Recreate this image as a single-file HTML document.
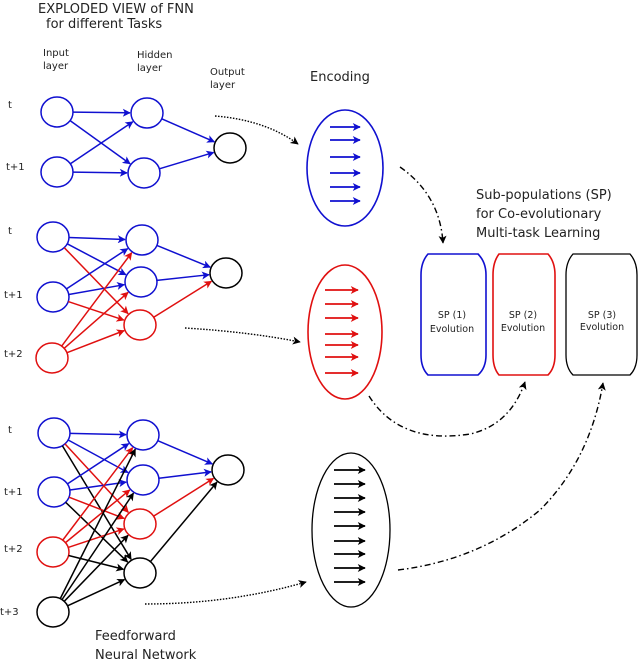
<!DOCTYPE html>
<html><head><meta charset="utf-8"><style>
html,body{margin:0;padding:0;background:#fff;width:640px;height:660px;overflow:hidden}
svg{display:block}
text{font-family:"DejaVu Sans","Liberation Sans",sans-serif;fill:#222}
</style></head><body>
<svg id="s" width="640" height="660" viewBox="0 0 640 660" xmlns="http://www.w3.org/2000/svg">
<defs>
<marker id="mb" viewBox="0 0 10 10" refX="9" refY="5" markerWidth="10" markerHeight="8" orient="auto" markerUnits="userSpaceOnUse"><path d="M0,0 L10,5 L0,10 L2.5,5z" fill="#1010d0"/></marker>
<marker id="mr" viewBox="0 0 10 10" refX="9" refY="5" markerWidth="10" markerHeight="8" orient="auto" markerUnits="userSpaceOnUse"><path d="M0,0 L10,5 L0,10 L2.5,5z" fill="#e01010"/></marker>
<marker id="mk" viewBox="0 0 10 10" refX="9" refY="5" markerWidth="10" markerHeight="8" orient="auto" markerUnits="userSpaceOnUse"><path d="M0,0 L10,5 L0,10 L2.5,5z" fill="#000"/></marker>
</defs>
<text x="38" y="13" font-size="13">EXPLODED VIEW of  FNN</text>
<text x="46" y="28" font-size="13">for different Tasks</text>
<text x="43" y="56" font-size="10">Input</text><text x="43" y="69" font-size="10">layer</text>
<text x="137" y="58" font-size="10">Hidden</text><text x="137" y="71" font-size="10">layer</text>
<text x="210" y="75" font-size="10">Output</text><text x="210" y="88" font-size="10">layer</text>
<text x="310" y="81" font-size="13">Encoding</text>
<text x="476" y="199" font-size="13">Sub-populations (SP)</text>
<text x="476" y="218" font-size="13">for Co-evolutionary</text>
<text x="476" y="237" font-size="13">Multi-task Learning</text>
<text x="95" y="640" font-size="13">Feedforward</text>
<text x="95" y="659" font-size="13">Neural Network</text>
<g font-size="10">
<text x="8" y="108">t</text><text x="6" y="170">t+1</text>
<text x="8" y="234">t</text><text x="4" y="298">t+1</text><text x="4" y="357">t+2</text>
<text x="8" y="433">t</text><text x="4" y="495">t+1</text><text x="4" y="552">t+2</text><text x="0" y="615">t+3</text>
</g>
<g id="net"></g>
<ellipse cx="345" cy="168" rx="38" ry="58" fill="none" stroke="#1010d0" stroke-width="1.6"/>
<ellipse cx="345" cy="332" rx="37" ry="67" fill="none" stroke="#e01010" stroke-width="1.6"/>
<ellipse cx="351" cy="530" rx="39" ry="77" fill="none" stroke="#000" stroke-width="1.3"/>
<g id="enc"></g>
<path d="M428,254 L478,254 Q486,262 486,275 L486,355 Q486,368 478,375 L428,375 Q421,368 421,355 L421,275 Q421,262 428,254Z" fill="none" stroke="#1010d0" stroke-width="1.6"/>
<path d="M499,254 L548,254 Q555,262 555,275 L555,355 Q555,368 548,375 L499,375 Q493,368 493,355 L493,275 Q493,262 499,254Z" fill="none" stroke="#e01010" stroke-width="1.6"/>
<path d="M573,254 L630,254 Q637,262 637,275 L637,355 Q637,368 630,375 L573,375 Q566,368 566,355 L566,275 Q566,262 573,254Z" fill="none" stroke="#000" stroke-width="1.3"/>
<g font-size="9.5" text-anchor="middle">
<text x="452" y="318">SP (1)</text><text x="452" y="332">Evolution</text>
<text x="523" y="318">SP (2)</text><text x="523" y="331">Evolution</text>
<text x="602" y="318">SP (3)</text><text x="602" y="330">Evolution</text>
</g>
<g fill="none" stroke="#000" stroke-width="1.4">
<path d="M215,116 Q265,120 298,144" stroke-dasharray="1.5,1.5" marker-end="url(#mk)"/>
<path d="M185,328 Q250,332 300,342" stroke-dasharray="1.5,1.5" marker-end="url(#mk)"/>
<path d="M145,604 Q230,604 306,582" stroke-dasharray="1.5,1.5" marker-end="url(#mk)"/>
<path d="M400,167 Q440,195 443,243" stroke-dasharray="6,3,1.5,3" marker-end="url(#mk)"/>
<path d="M369,396 Q400,445 470,434 Q510,425 525,382" stroke-dasharray="6,3,1.5,3" marker-end="url(#mk)"/>
<path d="M398,570 Q480,560 540,510 Q590,460 603,383" stroke-dasharray="6,3,1.5,3" marker-end="url(#mk)"/>
</g>
</svg>
<script>
var NS="http://www.w3.org/2000/svg",g=document.getElementById('net'),e=document.getElementById('enc');
var B="#1010d0",R="#e01010",K="#000",M={"#1010d0":"mb","#e01010":"mr","#000":"mk"},RK={"#1010d0":0,"#e01010":1,"#000":2};
function c(x,y,col){var o=document.createElementNS(NS,'ellipse');o.setAttribute('cx',x);o.setAttribute('cy',y);o.setAttribute('rx',16);o.setAttribute('ry',15);o.setAttribute('fill','none');o.setAttribute('stroke',col);o.setAttribute('stroke-width',1.5);g.appendChild(o);}
function l(a,b,col){var dx=b[0]-a[0],dy=b[1]-a[1],d=Math.hypot(dx,dy);var x1=a[0]+dx/d*16,y1=a[1]+dy/d*15,x2=b[0]-dx/d*17,y2=b[1]-dy/d*16;var o=document.createElementNS(NS,'line');o.setAttribute('x1',x1);o.setAttribute('y1',y1);o.setAttribute('x2',x2);o.setAttribute('y2',y2);o.setAttribute('stroke',col);o.setAttribute('stroke-width',1.5);o.setAttribute('marker-end','url(#'+M[col]+')');g.appendChild(o);}
function mx(a,b){return RK[a]>=RK[b]?a:b;}
function net(I,H,O,ic,hc,conn){I.forEach(function(p,i){c(p[0],p[1],ic[i]);});H.forEach(function(p,i){c(p[0],p[1],hc[i]);});c(O[0],O[1],K);
conn.forEach(function(q){l(I[q[0]],H[q[1]],mx(ic[q[0]],hc[q[1]]));});H.forEach(function(h,i){l(h,O,hc[i]);});}
net([[57,112],[57,172]],[[147,113],[144,173]],[230,148],[B,B],[B,B],[[0,0],[0,1],[1,0],[1,1]]);
net([[53,237],[53,297],[52,358]],[[142,240],[141,282],[140,325]],[226,273],[B,B,R],[B,B,R],
[[0,0],[0,1],[0,2],[1,0],[1,1],[1,2],[2,0],[2,1],[2,2]]);
var c3=[];for(var i=0;i<4;i++)for(var j=0;j<4;j++){c3.push([i,j]);}
net([[54,433],[54,492],[53,552],[53,612]],[[143,435],[143,480],[140,524],[140,573]],[228,470],[B,B,R,K],[B,B,R,K],c3);
function ea(ys,x1,x2,col){ys.forEach(function(y){var o=document.createElementNS(NS,'line');o.setAttribute('x1',x1);o.setAttribute('y1',y);o.setAttribute('x2',x2);o.setAttribute('y2',y);o.setAttribute('stroke',col);o.setAttribute('stroke-width',1.8);o.setAttribute('marker-end','url(#'+M[col]+')');e.appendChild(o);});}
ea([127,140,157,173,187,201],330,360,B);
ea([290,304,318,334,345,357,373],325,358,R);
ea([470,484,498,512,526,541,554,568,582],334,365,K);
</script>
</body></html>
